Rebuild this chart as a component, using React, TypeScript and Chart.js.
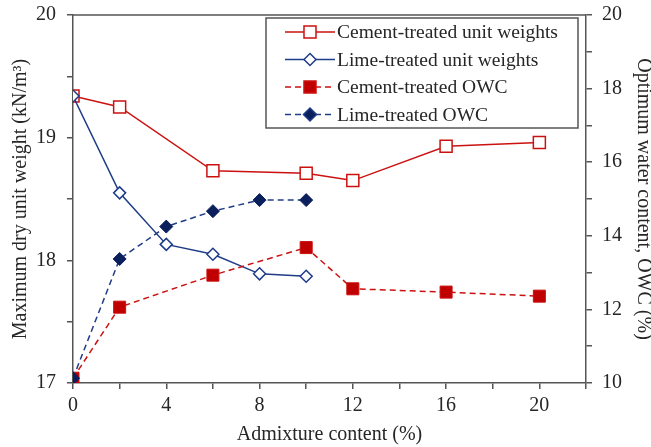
import React, { useEffect, useRef } from "react";
import { Chart, registerables } from "chart.js";

Chart.register(...registerables);

// Admixture content (%)
const admixCement = [0, 2, 6, 10, 12, 16, 20];
const admixLime = [0, 2, 4, 6, 8, 10];

// Maximum dry unit weight (kN/m³)
const cementUnitWeight = [19.34, 19.25, 18.73, 18.71, 18.65, 18.93, 18.96];
const limeUnitWeight = [19.34, 18.55, 18.13, 18.05, 17.89, 17.87];

// Optimum water content (%)
const cementOWC = [10.13, 12.06, 12.93, 13.68, 12.56, 12.47, 12.36];
const limeOWC = [10.13, 13.37, 14.25, 14.67, 14.97, 14.97];

const RED = "#cc1111";
const RED_FILL = "#c00000";
const BLUE = "#1f3c88";
const NAVY = "#0a1f5c";
const AXIS = "#555555";
const TEXT = "#262626";
const FONT = "'Liberation Serif', 'Times New Roman', serif";

const toPoints = (xs: number[], ys: number[]) => xs.map((x, i) => ({ x, y: ys[i] }));

type LegendEntry = {
  label: string;
  color: string;
  dash: number[];
  style: "rect" | "rectRot";
  fill: string;
  radius: number;
};

const legendEntries: LegendEntry[] = [
  { label: "Cement-treated unit weights", color: RED, dash: [], style: "rect", fill: "#ffffff", radius: 8.5 },
  { label: "Lime-treated unit weights", color: BLUE, dash: [], style: "rectRot", fill: "#ffffff", radius: 6 },
  { label: "Cement-treated OWC", color: RED, dash: [6, 4], style: "rect", fill: RED_FILL, radius: 8.5 },
  { label: "Lime-treated OWC", color: BLUE, dash: [6, 4], style: "rectRot", fill: NAVY, radius: 6.5 },
];

// square / diamond marker matching Chart.js point geometry
function drawMarker(ctx: CanvasRenderingContext2D, style: string, r: number, x: number, y: number) {
  ctx.beginPath();
  if (style === "rect") {
    const s = Math.SQRT1_2 * r;
    ctx.rect(x - s, y - s, 2 * s, 2 * s);
  } else {
    ctx.moveTo(x, y - r);
    ctx.lineTo(x + r, y);
    ctx.lineTo(x, y + r);
    ctx.lineTo(x - r, y);
    ctx.closePath();
  }
  ctx.fill();
  ctx.stroke();
}

const framePlugin = {
  id: "frameAndLegend",
  afterDraw(chart: any) {
    const { ctx, chartArea } = chart;
    ctx.save();
    // top edge of the plot frame
    ctx.strokeStyle = AXIS;
    ctx.lineWidth = 1.5;
    ctx.beginPath();
    ctx.moveTo(chartArea.left, chartArea.top);
    ctx.lineTo(chartArea.right, chartArea.top);
    ctx.stroke();

    // boxed legend in the upper right of the plot
    const bx = chartArea.left + 193;
    const by = chartArea.top + 3;
    const bw = 312;
    const bh = 110;
    ctx.fillStyle = "#ffffff";
    ctx.fillRect(bx, by, bw, bh);
    ctx.strokeStyle = AXIS;
    ctx.lineWidth = 1.5;
    ctx.strokeRect(bx, by, bw, bh);

    ctx.font = `19.5px ${FONT}`;
    ctx.textBaseline = "middle";
    legendEntries.forEach((e, i) => {
      const cy = by + 14 + i * 27.5;
      const x0 = bx + 19;
      const x1 = bx + 69;
      ctx.strokeStyle = e.color;
      ctx.lineWidth = 1.5;
      ctx.setLineDash(e.dash);
      ctx.beginPath();
      ctx.moveTo(x0, cy);
      ctx.lineTo(x1, cy);
      ctx.stroke();
      ctx.setLineDash([]);
      ctx.fillStyle = e.fill;
      ctx.strokeStyle = e.color;
      ctx.lineWidth = 1.5;
      drawMarker(ctx, e.style, e.radius, (x0 + x1) / 2, cy);
      ctx.fillStyle = TEXT;
      ctx.textAlign = "left";
      ctx.fillText(e.label, x1 + 2, cy + 1);
    });
    ctx.restore();
  },
};

export default function App() {
  const canvasRef = useRef<HTMLCanvasElement | null>(null);

  useEffect(() => {
    if (!canvasRef.current) return;
    const tickFont = { family: FONT, size: 20 };
    const xTitleFont = { family: FONT, size: 20 };
    const yTitleFont = { family: FONT, size: 20, lineHeight: 1 };
    const fixVertical = (w: number) => (s: any) => {
      s.width = w;
      s.paddingTop = 0;
      s.paddingBottom = 0;
    };
    const chart = new Chart(canvasRef.current, {
      type: "scatter",
      data: {
        datasets: [
          {
            label: "Cement-treated unit weights",
            data: toPoints(admixCement, cementUnitWeight),
            yAxisID: "y",
            showLine: true,
            borderColor: RED,
            borderWidth: 1.5,
            pointStyle: "rect",
            pointRadius: 8.5,
            pointBackgroundColor: "#ffffff",
            pointBorderColor: RED,
            pointBorderWidth: 1.5,
            order: 4,
          },
          {
            label: "Lime-treated unit weights",
            data: toPoints(admixLime, limeUnitWeight),
            yAxisID: "y",
            showLine: true,
            borderColor: BLUE,
            borderWidth: 1.5,
            pointStyle: "rectRot",
            pointRadius: 6,
            pointBackgroundColor: "#ffffff",
            pointBorderColor: BLUE,
            pointBorderWidth: 1.5,
            order: 3,
          },
          {
            label: "Cement-treated OWC",
            data: toPoints(admixCement, cementOWC),
            yAxisID: "y1",
            showLine: true,
            borderColor: RED,
            borderWidth: 1.5,
            borderDash: [6, 4],
            pointStyle: "rect",
            pointRadius: 8.5,
            pointBackgroundColor: RED_FILL,
            pointBorderColor: RED,
            pointBorderWidth: 1,
            order: 2,
          },
          {
            label: "Lime-treated OWC",
            data: toPoints(admixLime, limeOWC),
            yAxisID: "y1",
            showLine: true,
            borderColor: BLUE,
            borderWidth: 1.5,
            borderDash: [6, 4],
            pointStyle: "rectRot",
            pointRadius: 6.5,
            pointBackgroundColor: NAVY,
            pointBorderColor: NAVY,
            pointBorderWidth: 1,
            order: 1,
          },
        ],
      },
      options: {
        responsive: false,
        animation: false,
        layout: { padding: { top: 15, left: 0, right: 0, bottom: 0 } },
        plugins: {
          legend: { display: false },
          tooltip: { enabled: false },
        },
        scales: {
          x: {
            type: "linear",
            position: "bottom",
            min: 0,
            max: 22,
            ticks: {
              stepSize: 2,
              autoSkip: false,
              maxRotation: 0,
              font: tickFont,
              color: TEXT,
              padding: 5,
              callback: (v: any) => (Number(v) % 4 === 0 && Number(v) <= 20 ? String(v) : ""),
            },
            grid: { drawOnChartArea: false, drawTicks: true, tickLength: 6, color: AXIS, lineWidth: 1.5 },
            border: { color: AXIS, width: 1.5 },
            title: { display: true, text: "Admixture content (%)", font: xTitleFont, color: TEXT, padding: { top: 2, bottom: 0 } },
            afterFit: (s: any) => {
              s.height = 64;
              s.paddingLeft = 0;
              s.paddingRight = 0;
            },
          },
          y: {
            type: "linear",
            position: "left",
            min: 17,
            max: 20,
            ticks: {
              stepSize: 0.5,
              autoSkip: false,
              font: tickFont,
              color: TEXT,
              padding: 11,
              callback: (v: any) => (Number.isInteger(Number(v)) ? String(v) : ""),
            },
            grid: { drawOnChartArea: false, drawTicks: true, tickLength: 6, color: AXIS, lineWidth: 1.5 },
            border: { color: AXIS, width: 1.5 },
            title: { display: true, text: "Maximum dry unit weight (kN/m³)", font: yTitleFont, color: TEXT, padding: { top: 11, bottom: 0 } },
            afterFit: fixVertical(73),
          },
          y1: {
            type: "linear",
            position: "right",
            min: 10,
            max: 20,
            ticks: {
              stepSize: 1,
              autoSkip: false,
              font: tickFont,
              color: TEXT,
              padding: 10,
              callback: (v: any) => (Number(v) % 2 === 0 ? String(v) : ""),
            },
            grid: { drawOnChartArea: false, drawTicks: true, tickLength: 6, color: AXIS, lineWidth: 1.5 },
            border: { color: AXIS, width: 1.5 },
            title: { display: true, text: "Optimum water content, OWC (%)", font: yTitleFont, color: TEXT, padding: { top: -2, bottom: 0 } },
            afterFit: fixVertical(65),
          },
        },
      },
      plugins: [framePlugin],
    } as any);
    return () => chart.destroy();
  }, []);

  return (
    <div style={{ position: "fixed", left: 0, top: 0, width: 651, height: 447, background: "#ffffff" }}>
      <canvas ref={canvasRef} width={651} height={447} style={{ display: "block" }} />
    </div>
  );
}
